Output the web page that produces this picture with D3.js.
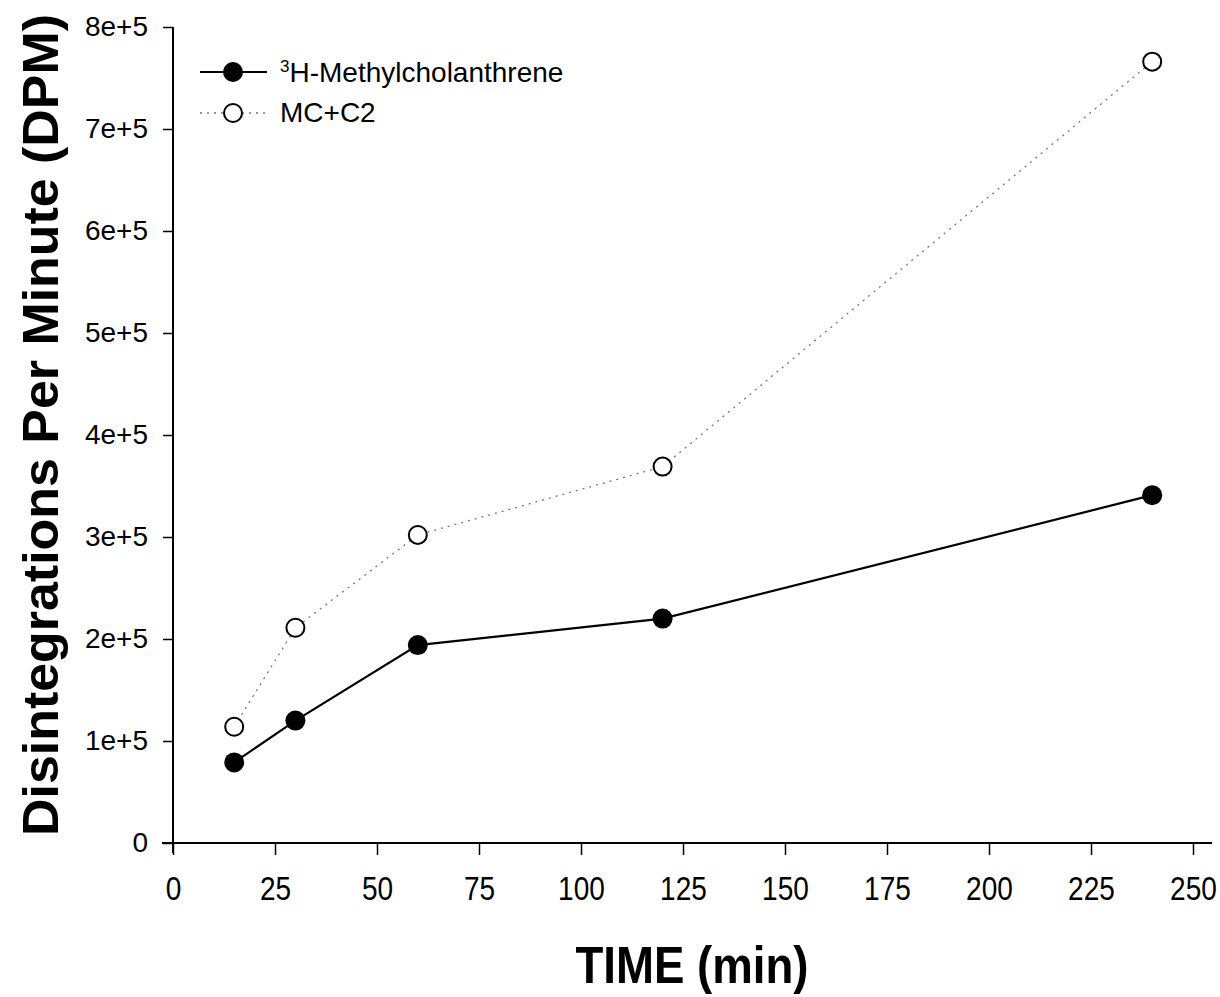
<!DOCTYPE html>
<html>
<head>
<meta charset="utf-8">
<script src="https://cdn.jsdelivr.net/npm/d3@7"></script>
<style>
  body { margin: 0; background: #fff; }
  text { font-family: "Liberation Sans", Arial, sans-serif; fill: #000; }
</style>
</head>
<body>
<div class="canvas"></div>
<script>
// data
const times = [15, 30, 60, 120, 240];
const mcDPM = [79000, 120000, 194000, 220000, 341000];
const mcC2DPM = [114000, 211000, 302000, 369000, 766000];
const xTicks = [0, 25, 50, 75, 100, 125, 150, 175, 200, 225, 250];
const yTicks = [0, 1e5, 2e5, 3e5, 4e5, 5e5, 6e5, 7e5, 8e5];
const yTickLabels = ["0", "1e+5", "2e+5", "3e+5", "4e+5", "5e+5", "6e+5", "7e+5", "8e+5"];
const seriesNames = ["H-Methylcholanthrene", "MC+C2"];

const svg = d3.select(".canvas")
              .append("svg")
              .attr("width", 1220)
              .attr("height", 997);

const x = d3.scaleLinear().domain([0, 250]).range([173, 1193]);
const y = d3.scaleLinear().domain([0, 8e5]).range([843, 27]);

// x axis
const xAxis = svg.append("g")
  .attr("transform", `translate(0,${y(0)})`)
  .call(d3.axisBottom(x).tickValues(xTicks).tickSize(12).tickSizeOuter(0));
xAxis.select(".domain").remove();
xAxis.selectAll(".tick line").attr("stroke", "#000").attr("stroke-width", 1.5);
xAxis.selectAll(".tick text")
  .attr("y", 57)
  .attr("dy", null)
  .attr("font-size", 33)
  .attr("transform", "scale(0.85,1)")
  .attr("font-family", null);
svg.append("line")
  .attr("x1", 162).attr("x2", 1212)
  .attr("y1", y(0)).attr("y2", y(0))
  .attr("stroke", "#000").attr("stroke-width", 2);

// y axis
const yAxis = svg.append("g")
  .attr("transform", `translate(${x(0)},0)`)
  .call(d3.axisLeft(y).tickValues(yTicks).tickSize(10).tickSizeOuter(0)
          .tickFormat((d, i) => yTickLabels[i]));
yAxis.select(".domain").remove();
yAxis.selectAll(".tick line").attr("stroke", "#000").attr("stroke-width", 1.5);
yAxis.selectAll(".tick text")
  .attr("x", -25)
  .attr("font-size", 28)
  .attr("font-family", null);
svg.append("line")
  .attr("x1", x(0)).attr("x2", x(0))
  .attr("y1", y(8e5)).attr("y2", 853)
  .attr("stroke", "#000").attr("stroke-width", 2);

// axis titles
svg.append("text")
  .attr("x", 692).attr("y", 983)
  .attr("text-anchor", "middle")
  .attr("font-size", 52)
  .attr("font-weight", "bold")
  .attr("textLength", 233)
  .attr("lengthAdjust", "spacingAndGlyphs")
  .text("TIME (min)");

svg.append("text")
  .attr("transform", "translate(58,425) rotate(-90)")
  .attr("text-anchor", "middle")
  .attr("font-size", 50)
  .attr("font-weight", "bold")
  .attr("textLength", 822)
  .attr("lengthAdjust", "spacingAndGlyphs")
  .text("Disintegrations Per Minute (DPM)");

// lines
const line = d3.line().x(d => x(d[0])).y(d => y(d[1]));
const mcPts = times.map((t, i) => [t, mcDPM[i]]);
const c2Pts = times.map((t, i) => [t, mcC2DPM[i]]);

svg.append("path")
  .attr("d", line(c2Pts))
  .attr("fill", "none")
  .attr("stroke", "#777")
  .attr("stroke-width", 1.3)
  .attr("stroke-dasharray", "2,5");

svg.append("path")
  .attr("d", line(mcPts))
  .attr("fill", "none")
  .attr("stroke", "#000")
  .attr("stroke-width", 2.2);

svg.selectAll("circle.c2")
  .data(c2Pts)
  .enter()
  .append("circle")
  .attr("class", "c2")
  .attr("cx", d => x(d[0]))
  .attr("cy", d => y(d[1]))
  .attr("r", 9)
  .attr("fill", "#fff")
  .attr("stroke", "#000")
  .attr("stroke-width", 2);

svg.selectAll("circle.mc")
  .data(mcPts)
  .enter()
  .append("circle")
  .attr("class", "mc")
  .attr("cx", d => x(d[0]))
  .attr("cy", d => y(d[1]))
  .attr("r", 10)
  .attr("fill", "#000");

// legend
const legend = svg.append("g");
legend.append("line")
  .attr("x1", 200).attr("x2", 267).attr("y1", 72).attr("y2", 72)
  .attr("stroke", "#000").attr("stroke-width", 2.2);
legend.append("circle")
  .attr("cx", 233).attr("cy", 72).attr("r", 10).attr("fill", "#000");
const t1 = legend.append("text")
  .attr("x", 280).attr("y", 82)
  .attr("font-size", 28);
t1.append("tspan").attr("font-size", 17).attr("dy", -10).text("3");
t1.append("tspan").attr("dy", 10).text(seriesNames[0]);

legend.append("line")
  .attr("x1", 200).attr("x2", 267).attr("y1", 113).attr("y2", 113)
  .attr("stroke", "#777").attr("stroke-width", 1.3)
  .attr("stroke-dasharray", "2,5");
legend.append("circle")
  .attr("cx", 233).attr("cy", 113).attr("r", 9)
  .attr("fill", "#fff").attr("stroke", "#000").attr("stroke-width", 2);
legend.append("text")
  .attr("x", 280).attr("y", 122)
  .attr("font-size", 28)
  .text(seriesNames[1]);
</script>
</body>
</html>
